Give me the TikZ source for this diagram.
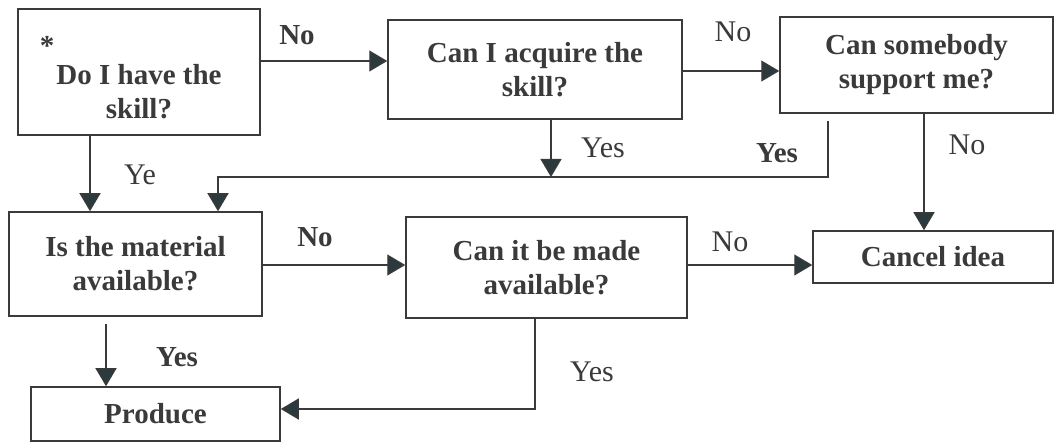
\documentclass[tikz,border=0pt]{standalone}
\usepackage{fontspec}
\setmainfont{Liberation Serif}
\usetikzlibrary{arrows.meta}
\definecolor{inkgray}{HTML}{3A3A3A}
\definecolor{tipgray}{HTML}{2A3A3D}
\tikzset{
  box/.style={draw=inkgray, line width=1.5pt, align=center, inner sep=0pt,
    font=\fontsize{29}{34}\selectfont\bfseries, text=inkgray},
  arr/.style={draw=inkgray, line width=1.3pt,
    -{Triangle[length=18pt,width=21pt,fill=tipgray]}},
  lbl/.style={font=\fontsize{30}{34}\selectfont, text=inkgray, inner sep=0pt, align=center},
  blbl/.style={lbl, font=\fontsize{29}{34}\selectfont\bfseries},
}

\begin{document}
\begin{tikzpicture}[x=1pt,y=-1pt]
    \useasboundingbox (0,0) rectangle (1055,443);
    % boxes
    \node[box, minimum width=242pt, minimum height=126pt] (skill) at (139,72) {};
    \node[blbl] (skilltext) at (139,92) {Do I have the\\skill?};
    \node[blbl, anchor=base] (star) at (47,56) {*};
    \node[box, minimum width=294pt, minimum height=99pt] (acquire) at (535,69.5) {Can I acquire the\\skill?};
    \node[box, minimum width=273pt, minimum height=96pt] (support) at (916.5,65) {Can somebody\\support me?};
    \node[box, minimum width=253pt, minimum height=104pt] (material) at (135.5,264) {Is the material\\available?};
    \node[box, minimum width=281pt, minimum height=101pt] (avail) at (546.5,267.5) {Can it be made\\available?};
    \node[box, minimum width=240pt, minimum height=52pt] (cancel) at (933,257) {Cancel idea};
    \node[box, minimum width=249pt, minimum height=54pt] (produce) at (155.5,414) {Produce};
    % connectors
    \coordinate (join) at (551,177);
    \coordinate (bend) at (218,177);
    \draw[arr] (skill.east |- 0,61) -- (acquire.west |- 0,61);
    \draw[arr] (acquire.east |- 0,71) -- (support.west |- 0,71);
    \draw[arr] (skill.south -| 90,0) -- (material.north -| 90,0);
    \draw[arr] (acquire.south -| join) -- (join);
    \draw[arr, shorten <=7pt] (support.south -| 828,0) |- (bend) -- (material.north -| bend);
    \draw[arr] (support.south -| 924,0) -- (cancel.north -| 924,0);
    \draw[arr] (material.east |- 0,265) -- (avail.west |- 0,265);
    \draw[arr] (avail.east |- 0,265) -- (cancel.west |- 0,265);
    \draw[arr, shorten <=7pt] (material.south -| 106,0) -- (produce.north -| 106,0);
    \draw[arr] (avail.south -| 535,0) |- (produce.east |- 0,409);
    % labels
    \foreach \x/\y/\t [count=\i] in {733/32/No, 140/175/Ye, 603/148/Yes, 967/145/No,
        730/242/No, 592/372/Yes}
      \node[lbl] (lbl\i) at (\x,\y) {\t};
    \foreach \x/\y/\t [count=\i] in {297/35/No, 777/153/Yes, 315/237/No, 177/357/Yes}
      \node[blbl] (blbl\i) at (\x,\y) {\t};
\end{tikzpicture}
\end{document}
